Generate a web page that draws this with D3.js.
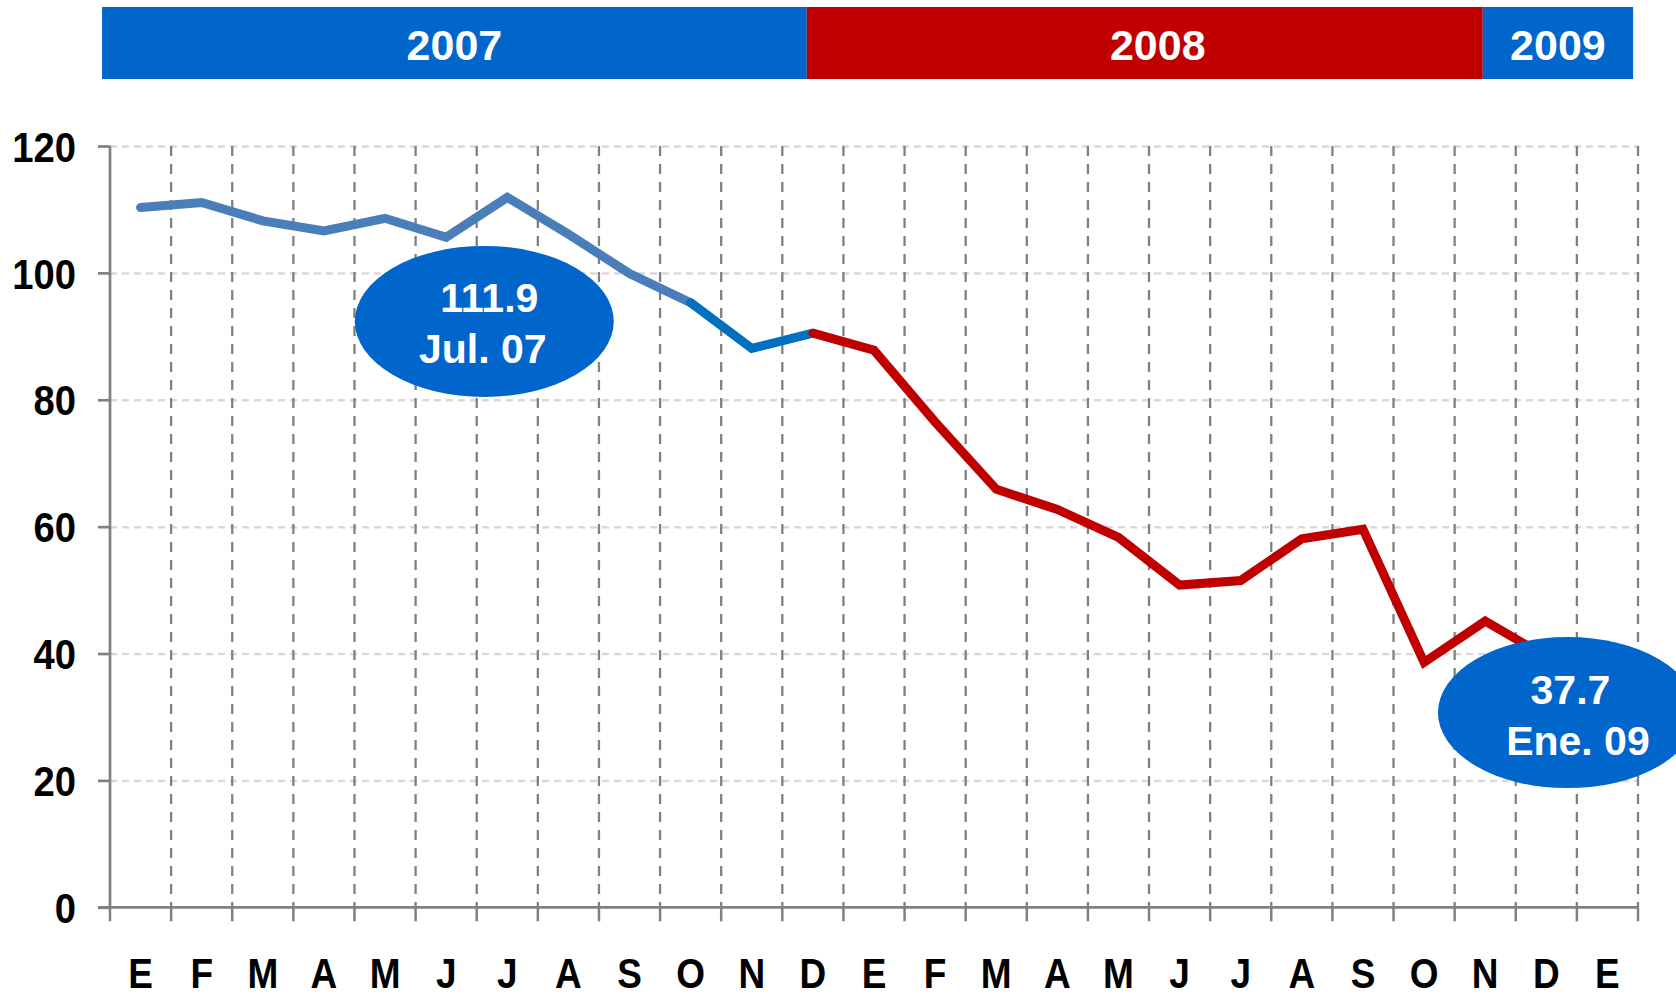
<!DOCTYPE html>
<html>
<head>
<meta charset="utf-8">
<script src="https://cdn.jsdelivr.net/npm/d3@7"></script>
<style>
  html, body { margin: 0; padding: 0; background: #fff; }
  #chart { width: 1676px; height: 999px; overflow: hidden; }
  text { font-family: 'Liberation Sans', Arial, sans-serif; font-weight: bold; }
</style>
</head>
<body>
<div id="chart"></div>
<script>
// month initials, Jan 2007 .. Jan 2009
const months = ['E', 'F', 'M', 'A', 'M', 'J', 'J', 'A', 'S', 'O', 'N', 'D',
                'E', 'F', 'M', 'A', 'M', 'J', 'J', 'A', 'S', 'O', 'N', 'D', 'E'];
const values = [110.3, 111.1, 108.2, 106.6, 108.6, 105.6, 111.9, 106.1, 99.9, 95.3, 88.1, 90.5,
                87.8, 76.5, 65.9, 62.7, 58.3, 50.8, 51.5, 58.1, 59.6, 38.6, 45.1, 39.5, 37.7];
const yTicks = [0, 20, 40, 60, 80, 100, 120];

// year strip, extents in month units
const years = ['2007', '2008', '2009'];
const yearFrom = [-0.13, 11.4, 22.46];
const yearTo = [11.4, 22.46, 24.92];

// where the line changes colour (point indices)
const lineBreaks = [0, 9, 11, 24];

const callouts = [
  { index: 6, value: '111.9', label: 'Jul. 07' },
  { index: 24, value: '37.7', label: 'Ene. 09' }
];

const width = 1676;
const height = 999;
const plotLeft = 110, plotRight = 1638, plotTop = 146, plotBottom = 907.3;

const blue = '#0066CC';
const red = '#C00000';
const yearColors = [blue, red, blue];
const lineColors = ['#4A7EBB', '#0070C0', red];
const axisGray = '#808080';

const svg = d3.select('#chart')
  .append('svg')
  .attr('width', width)
  .attr('height', height);

const x = d3.scaleBand()
  .domain(d3.range(months.length))
  .range([plotLeft, plotRight])
  .padding(0);
const xEdge = d3.scaleLinear()
  .domain([0, months.length])
  .range([plotLeft, plotRight]);
const y = d3.scaleLinear()
  .domain([0, 120])
  .range([plotBottom, plotTop]);

const cx = i => x(i) + x.bandwidth() / 2;

// year strip
const strip = svg.append('g');
strip.selectAll('rect')
  .data(years)
  .enter()
  .append('rect')
  .attr('x', (d, i) => xEdge(yearFrom[i]))
  .attr('width', (d, i) => xEdge(yearTo[i]) - xEdge(yearFrom[i]))
  .attr('y', 7)
  .attr('height', 72)
  .attr('fill', (d, i) => yearColors[i]);
strip.selectAll('text')
  .data(years)
  .enter()
  .append('text')
  .attr('x', (d, i) => (xEdge(yearFrom[i]) + xEdge(yearTo[i])) / 2 + (i === 1 ? 13 : 0))
  .attr('y', 59.5)
  .attr('text-anchor', 'middle')
  .attr('font-size', '43px')
  .attr('fill', '#fff')
  .text(d => d);

// horizontal grid
svg.append('g')
  .attr('transform', `translate(${plotLeft},0)`)
  .call(d3.axisLeft(y).tickValues(yTicks.filter(v => v > 0)).tickSize(-(plotRight - plotLeft)).tickFormat(''))
  .call(g => g.select('.domain').remove())
  .call(g => g.selectAll('line')
    .attr('stroke', '#D9D9D9')
    .attr('stroke-width', 2.5)
    .attr('stroke-dasharray', '7,5'));

// vertical grid at month edges
svg.append('g')
  .selectAll('line')
  .data(d3.range(1, months.length + 1))
  .enter()
  .append('line')
  .attr('x1', d => xEdge(d))
  .attr('x2', d => xEdge(d))
  .attr('y1', plotTop)
  .attr('y2', plotBottom)
  .attr('stroke', axisGray)
  .attr('stroke-width', 2.3)
  .attr('stroke-dasharray', '10,8');

// y axis
const yAxis = svg.append('g')
  .attr('transform', `translate(${plotLeft},0)`)
  .call(d3.axisLeft(y).tickValues(yTicks).tickSize(12).tickPadding(22));
yAxis.select('.domain').remove();
yAxis.selectAll('line').attr('stroke', axisGray).attr('stroke-width', 2.7);
yAxis.selectAll('text')
  .attr('font-size', '42px')
  .attr('fill', '#000')
  .attr('x', -34 / 0.91)
  .attr('dy', '0.36em')
  .attr('transform', 'scale(0.91,1)');

// x axis
const xAxis = svg.append('g')
  .attr('transform', `translate(0,${plotBottom})`)
  .call(d3.axisBottom(x).tickFormat(i => months[i]).tickSize(0));
xAxis.select('.domain').remove();
xAxis.selectAll('text')
  .attr('font-size', '42px')
  .attr('fill', '#000')
  .attr('y', 80.7)
  .attr('dy', 0)
  .attr('transform', 'scale(0.88,1)');

// ticks under the axis at month edges
svg.append('g')
  .selectAll('line')
  .data(d3.range(0, months.length + 1))
  .enter()
  .append('line')
  .attr('x1', d => xEdge(d))
  .attr('x2', d => xEdge(d))
  .attr('y1', plotBottom)
  .attr('y2', plotBottom + 14)
  .attr('stroke', axisGray)
  .attr('stroke-width', 2.5);

// axis lines
svg.append('line')
  .attr('x1', plotLeft).attr('x2', plotLeft)
  .attr('y1', plotTop).attr('y2', plotBottom)
  .attr('stroke', axisGray).attr('stroke-width', 2.7);
svg.append('line')
  .attr('x1', plotLeft - 12).attr('x2', plotRight)
  .attr('y1', plotBottom).attr('y2', plotBottom)
  .attr('stroke', axisGray).attr('stroke-width', 2.7);

// the series, in three coloured pieces
const line = d3.line()
  .x(i => cx(i))
  .y(i => y(values[i]));

svg.append('g')
  .selectAll('path')
  .data(lineColors)
  .enter()
  .append('path')
  .attr('d', (c, k) => line(d3.range(lineBreaks[k], lineBreaks[k + 1] + 1)))
  .attr('fill', 'none')
  .attr('stroke', c => c)
  .attr('stroke-width', 9)
  .attr('stroke-linecap', 'round')
  .attr('stroke-linejoin', 'miter');

// callout bubbles
const offsets = [
  { dx: -23, dy: 124, t1: 5, t2: -1.5 },
  { dx: -40, dy: 44.5, t1: 3, t2: 10.5 }
];
const bubble = svg.append('g')
  .selectAll('g')
  .data(callouts)
  .enter()
  .append('g')
  .attr('transform', (d, k) => `translate(${cx(d.index) + offsets[k].dx},${y(values[d.index]) + offsets[k].dy})`);

bubble.append('ellipse')
  .attr('rx', 129.5)
  .attr('ry', 75.5)
  .attr('fill', blue);
bubble.append('text')
  .attr('x', (d, k) => offsets[k].t1)
  .attr('y', -9)
  .attr('text-anchor', 'middle')
  .attr('font-size', '41px')
  .attr('fill', '#fff')
  .text(d => d.value);
bubble.append('text')
  .attr('x', (d, k) => offsets[k].t2)
  .attr('y', 42)
  .attr('text-anchor', 'middle')
  .attr('font-size', '41px')
  .attr('fill', '#fff')
  .text(d => d.label);
</script>
</body>
</html>
